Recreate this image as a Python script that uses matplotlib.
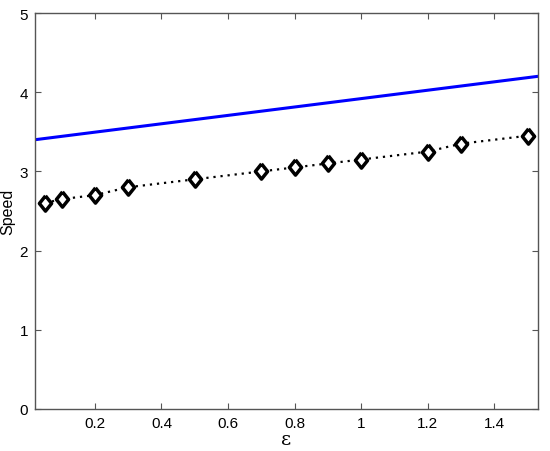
import matplotlib
matplotlib.use("Agg")
import matplotlib.pyplot as plt

# data
eps_pts = [0.05, 0.1, 0.2, 0.3, 0.5, 0.7, 0.8, 0.9, 1.0, 1.2, 1.3, 1.5]
speed_pts = [2.60, 2.65, 2.70, 2.80, 2.90, 3.00, 3.05, 3.10, 3.15, 3.25, 3.35, 3.45]

eps_line = [0.02, 1.53]
speed_line = [3.40, 4.20]

x_ticks = [0.2, 0.4, 0.6, 0.8, 1.0, 1.2, 1.4]
x_tick_labels = ["0.2", "0.4", "0.6", "0.8", "1", "1.2", "1.4"]
y_ticks = [0, 1, 2, 3, 4, 5]

plt.rcParams["font.family"] = ["Liberation Sans", "DejaVu Sans"]

# MATLAB-like diamond, a bit taller than wide
diamond = [(0, 1), (0.8, 0), (0, -1), (-0.8, 0), (0, 1)]

fig = plt.figure(figsize=(5.5, 4.52), dpi=100)
ax = fig.add_axes([0.0636, 0.093, 0.914, 0.876])

ax.plot(eps_line, speed_line, color="#0000ff", linewidth=2.2)
ax.plot(eps_pts, speed_pts, linestyle=(0, (1, 2.2)), color="black", linewidth=1.6,
        marker=diamond, markersize=11, markerfacecolor="white",
        markeredgecolor="black", markeredgewidth=2.5)

ax.set_xlim(0.02, 1.53)
ax.set_ylim(0, 5)
ax.set_xticks(x_ticks)
ax.set_xticklabels(x_tick_labels)
ax.set_yticks(y_ticks)

ax.tick_params(direction="in", top=True, right=True, length=4,
               labelsize=11, color="#555555", pad=5)
for s in ax.spines.values():
    s.set_color("#555555")
    s.set_linewidth(1.0)

ax.set_xlabel("ε", fontsize=14, family=["DejaVu Serif"], labelpad=0)
ax.set_ylabel("Speed", fontsize=11.5, labelpad=3)

fig.savefig("out.png", dpi=100)
